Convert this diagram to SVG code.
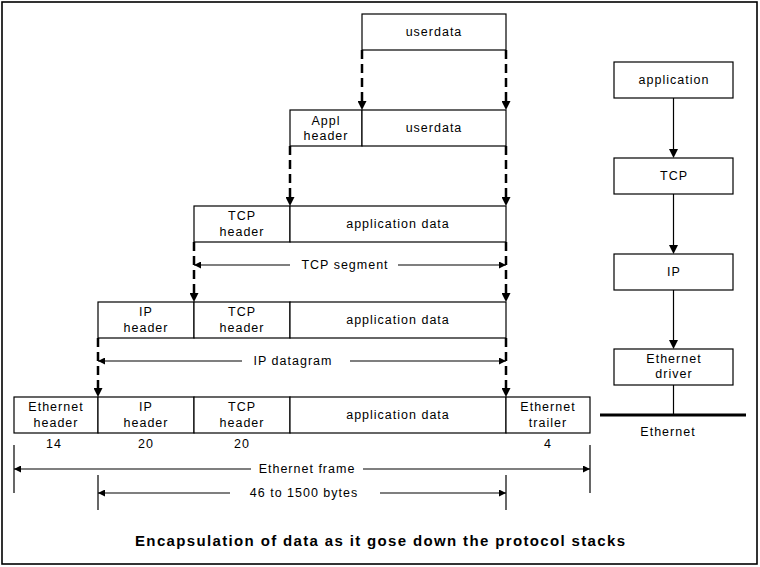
<svg xmlns="http://www.w3.org/2000/svg" width="760" height="567" viewBox="0 0 760 567">
<style>
.bx{fill:#fff;stroke:#000;stroke-width:1.2}
.t{font-family:"Liberation Sans",Arial,sans-serif;font-size:12.5px;letter-spacing:1px;text-anchor:middle;fill:#000}
.dash{stroke:#000;stroke-width:2.5;stroke-dasharray:9 5;fill:none}
.ln{stroke:#000;stroke-width:1.2;fill:none}
.cap{font-family:"Liberation Sans",Arial,sans-serif;font-size:15px;font-weight:bold;fill:#000}
</style>
<defs>
<marker id="big" viewBox="0 0 10 10" refX="0" refY="5" markerWidth="9" markerHeight="9" markerUnits="userSpaceOnUse" orient="auto">
<path d="M0,0 L10,5 L0,10 z" fill="#000"/>
</marker>
<marker id="sm" viewBox="0 0 10 10" refX="10" refY="5" markerWidth="8" markerHeight="7" markerUnits="userSpaceOnUse" orient="auto">
<path d="M0,0 L10,5 L0,10 z" fill="#000"/>
</marker>
</defs>
<rect x="2" y="2" width="755" height="562" fill="#fff" stroke="#000" stroke-width="1.6"/>

<g id="row1">
<rect class="bx" x="362" y="14" width="144" height="36"/>
<text class="t" x="434" y="36">userdata</text>
</g>

<g id="row2">
<rect class="bx" x="290" y="110" width="72" height="36"/>
<text class="t" x="326" y="125">Appl</text>
<text class="t" x="326" y="140">header</text>
<rect class="bx" x="362" y="110" width="144" height="36"/>
<text class="t" x="434" y="132">userdata</text>
</g>

<g id="row3">
<rect class="bx" x="194" y="206" width="96" height="36"/>
<text class="t" x="242" y="220">TCP</text>
<text class="t" x="242" y="236">header</text>
<rect class="bx" x="290" y="206" width="216" height="36"/>
<text class="t" x="398" y="228">application data</text>
</g>

<g id="row4">
<rect class="bx" x="98" y="302" width="96" height="36"/>
<text class="t" x="146" y="316">IP</text>
<text class="t" x="146" y="332">header</text>
<rect class="bx" x="194" y="302" width="96" height="36"/>
<text class="t" x="242" y="316">TCP</text>
<text class="t" x="242" y="332">header</text>
<rect class="bx" x="290" y="302" width="216" height="36"/>
<text class="t" x="398" y="324">application data</text>
</g>

<g id="row5">
<rect class="bx" x="14" y="397" width="84" height="36"/>
<text class="t" x="56" y="411">Ethernet</text>
<text class="t" x="56" y="427">header</text>
<rect class="bx" x="98" y="397" width="96" height="36"/>
<text class="t" x="146" y="411">IP</text>
<text class="t" x="146" y="427">header</text>
<rect class="bx" x="194" y="397" width="96" height="36"/>
<text class="t" x="242" y="411">TCP</text>
<text class="t" x="242" y="427">header</text>
<rect class="bx" x="290" y="397" width="216" height="36"/>
<text class="t" x="398" y="419">application data</text>
<rect class="bx" x="506" y="397" width="84" height="36"/>
<text class="t" x="548" y="411">Ethernet</text>
<text class="t" x="548" y="427">trailer</text>
</g>

<g id="sizes">
<text class="t" x="54" y="448">14</text>
<text class="t" x="146" y="448">20</text>
<text class="t" x="242" y="448">20</text>
<text class="t" x="548" y="448">4</text>
</g>

<g id="stack-application">
<rect class="bx" x="614" y="62" width="119" height="36"/>
<text class="t" x="674" y="84">application</text>
</g>
<g id="stack-tcp">
<rect class="bx" x="614" y="158" width="119" height="36"/>
<text class="t" x="674" y="180">TCP</text>
</g>
<g id="stack-ip">
<rect class="bx" x="614" y="254" width="119" height="36"/>
<text class="t" x="674" y="276">IP</text>
</g>
<g id="stack-driver">
<rect class="bx" x="614" y="349" width="119" height="36"/>
<text class="t" x="674" y="363">Ethernet</text>
<text class="t" x="674" y="378">driver</text>
</g>
<g id="ethernet-bus">
<line x1="600" y1="415" x2="746" y2="415" stroke="#000" stroke-width="3"/>
<text class="t" x="668" y="436">Ethernet</text>
</g>

<g id="connectors">
<line class="dash" x1="362" y1="50" x2="362" y2="101" marker-end="url(#big)"/>
<line class="dash" x1="506" y1="50" x2="506" y2="101" marker-end="url(#big)"/>
<line class="dash" x1="290" y1="146" x2="290" y2="197" marker-end="url(#big)"/>
<line class="dash" x1="506" y1="146" x2="506" y2="197" marker-end="url(#big)"/>
<line class="dash" x1="194" y1="242" x2="194" y2="293" marker-end="url(#big)"/>
<line class="dash" x1="506" y1="242" x2="506" y2="293" marker-end="url(#big)"/>
<line class="dash" x1="98" y1="338" x2="98" y2="388" marker-end="url(#big)"/>
<line class="dash" x1="506" y1="338" x2="506" y2="388" marker-end="url(#big)"/>

<line class="ln" x1="290" y1="265" x2="194" y2="265" marker-end="url(#sm)"/>
<line class="ln" x1="398" y1="265" x2="506" y2="265" marker-end="url(#sm)"/>
<text class="t" x="345" y="269">TCP segment</text>

<line class="ln" x1="242" y1="361" x2="98" y2="361" marker-end="url(#sm)"/>
<line class="ln" x1="350" y1="361" x2="506" y2="361" marker-end="url(#sm)"/>
<text class="t" x="293" y="365">IP datagram</text>

<line class="ln" x1="14" y1="445" x2="14" y2="493"/>
<line class="ln" x1="590" y1="445" x2="590" y2="493"/>
<line class="ln" x1="251" y1="469" x2="14" y2="469" marker-end="url(#sm)"/>
<line class="ln" x1="363" y1="469" x2="590" y2="469" marker-end="url(#sm)"/>
<text class="t" x="307" y="473">Ethernet frame</text>

<line class="ln" x1="98" y1="475" x2="98" y2="510"/>
<line class="ln" x1="506" y1="475" x2="506" y2="510"/>
<line class="ln" x1="230" y1="493" x2="98" y2="493" marker-end="url(#sm)"/>
<line class="ln" x1="380" y1="493" x2="506" y2="493" marker-end="url(#sm)"/>
<text class="t" x="304" y="497">46 to 1500 bytes</text>

<line class="ln" x1="673.5" y1="98" x2="673.5" y2="149" marker-end="url(#big)"/>
<line class="ln" x1="673.5" y1="194" x2="673.5" y2="245" marker-end="url(#big)"/>
<line class="ln" x1="673.5" y1="290" x2="673.5" y2="340" marker-end="url(#big)"/>
<line class="ln" x1="673.5" y1="385" x2="673.5" y2="415"/>
</g>

<text class="cap" x="135" y="546" textLength="490" lengthAdjust="spacing">Encapsulation of data as it gose down the protocol stacks</text>
</svg>
